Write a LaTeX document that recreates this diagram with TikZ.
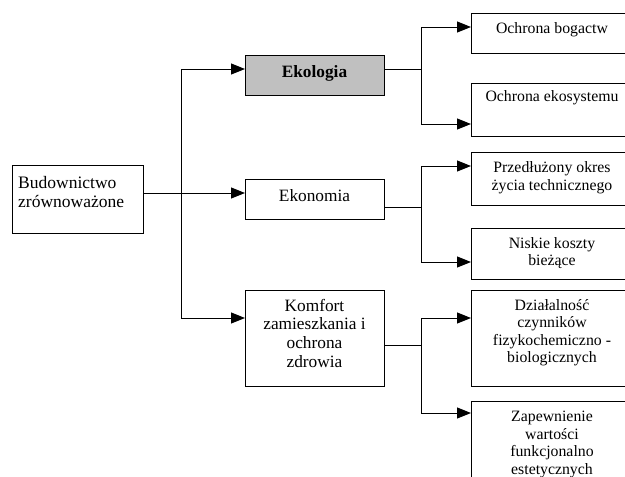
\documentclass[tikz,border=0pt]{standalone}
\usepackage{fontspec}
\setmainfont{Liberation Serif}
\usetikzlibrary{arrows.meta}
\definecolor{boxgray}{HTML}{C0C0C0}
\tikzset{
  box/.style={draw=black, line width=1pt, rectangle, inner sep=0pt, anchor=north west},
  midtxt/.style={align=center, anchor=north, inner sep=0pt, font=\fontsize{17.3}{18.8}\selectfont},
  righttxt/.style={align=center, anchor=north, inner sep=0pt, font=\fontsize{15.8}{17.5}\selectfont},
  lefttxt/.style={align=left, anchor=north west, inner sep=0pt, font=\fontsize{17.5}{19.5}\selectfont},
  conn/.style={draw=black, line width=1pt},
  arr/.style={conn, -{Triangle[length=14pt,width=11pt]}}
}
\begin{document}
\begin{tikzpicture}[x=1pt,y=-1pt]
\useasboundingbox (0,0) rectangle (625,477);
\clip (0,0) rectangle (625,477);
% boxes
\node[box, minimum width=131pt, minimum height=68pt] (bud) at (12,165) {};
\node[box, fill=boxgray, minimum width=139pt, minimum height=40pt] (ekol) at (245,55) {};
\node[box, minimum width=139pt, minimum height=40pt] (ekon) at (245,179) {};
\node[box, minimum width=139pt, minimum height=96pt] (komf) at (245,290) {};
\node[box, minimum width=162pt, minimum height=40pt] (r1) at (471,13) {};
\node[box, minimum width=162pt, minimum height=53pt] (r2) at (471,83) {};
\node[box, minimum width=162pt, minimum height=53pt] (r3) at (471,152) {};
\node[box, minimum width=162pt, minimum height=51pt] (r4) at (471,228) {};
\node[box, minimum width=162pt, minimum height=96pt] (r5) at (471,290) {};
\node[box, minimum width=162pt, minimum height=100pt] (r6) at (471,401) {};
% texts
\node[lefttxt] (tbud) at (18,174.4) {\strut Budownictwo\\zrównoważone};
\node[midtxt] (tekol) at (314.5,63.8) {\strut\textbf{Ekologia}};
\node[midtxt] (tekon) at (314.5,188.5) {\strut Ekonomia};
\node[midtxt] (tkomf) at (314.5,297.8) {\strut Komfort\\zamieszkania i\\ochrona\\zdrowia};
\node[righttxt] (tr1) at (552,21.3) {\strut Ochrona bogactw};
\node[righttxt] (tr2) at (552,89.5) {\strut Ochrona ekosystemu};
\node[righttxt] (tr3) at (552,160.5) {\strut Przedłużony okres\\życia technicznego};
\node[righttxt] (tr4) at (552,235.8) {\strut Niskie koszty\\bieżące};
\node[righttxt] (tr5) at (552,297.8) {\strut Działalność\\czynników\\fizykochemiczno -\\biologicznych};
\node[righttxt] (tr6) at (552,409.5) {\strut Zapewnienie\\wartości\\funkcjonalno\\estetycznych};
% junction coordinates
\coordinate (t1) at (181,69);
\coordinate (t2) at (181,193);
\coordinate (t3) at (181,318);
\coordinate (a0) at (421,69);
\coordinate (a1) at (421,27);
\coordinate (a2) at (421,124);
\coordinate (b0) at (421,207);
\coordinate (b1) at (421,166);
\coordinate (b2) at (421,262);
\coordinate (c0) at (421,345);
\coordinate (c1) at (421,318);
\coordinate (c2) at (421,413);
% connectors
\draw[arr] (bud.east |- t2) -- (ekon.west |- t2);
\draw[arr] (t2) |- (ekol.west |- t1);
\draw[arr] (t2) |- (komf.west |- t3);
\draw[conn] (ekol.east |- a0) -- (a0);
\draw[arr] (a0) |- (r1.west |- a1);
\draw[arr] (a0) |- (r2.west |- a2);
\draw[conn] (ekon.east |- b0) -- (b0);
\draw[arr] (b0) |- (r3.west |- b1);
\draw[arr] (b0) |- (r4.west |- b2);
\draw[conn] (komf.east |- c0) -- (c0);
\draw[arr] (c0) |- (r5.west |- c1);
\draw[arr] (c0) |- (r6.west |- c2);
\end{tikzpicture}
\end{document}
